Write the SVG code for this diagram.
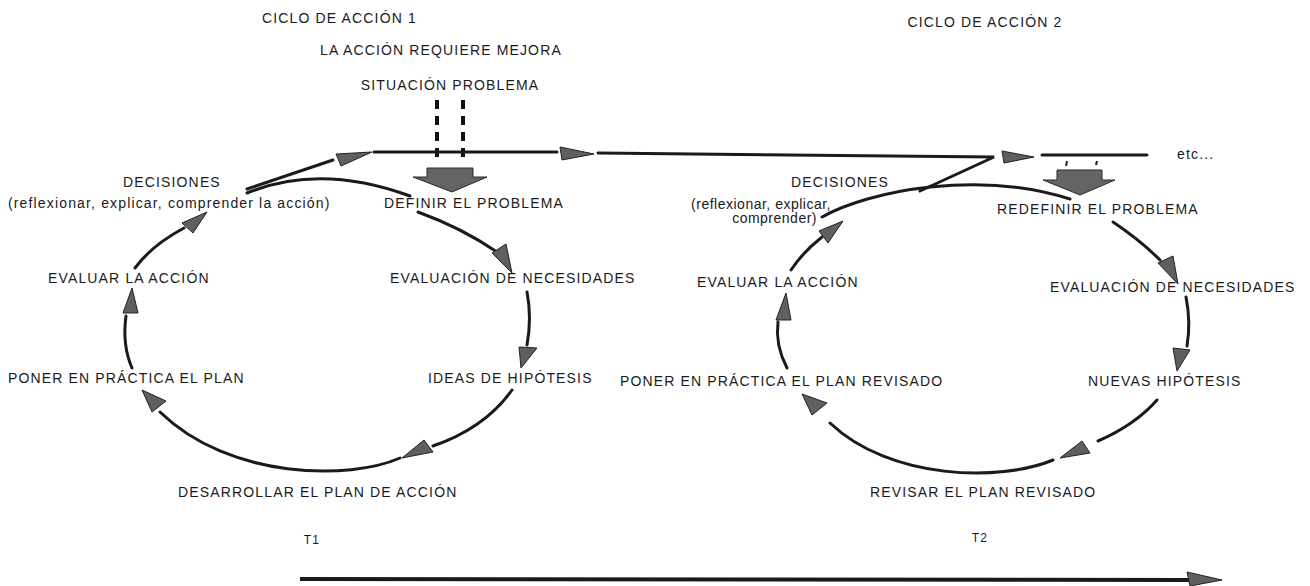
<svg xmlns="http://www.w3.org/2000/svg" width="1310" height="586" viewBox="0 0 1310 586">
<style>
text{font-family:"Liberation Sans",Arial,sans-serif;font-size:14px;letter-spacing:1.15px;fill:#1a1a1a}
.tight{letter-spacing:0.5px}
.ln{fill:none;stroke:#1a1a1a;stroke-width:3;stroke-linecap:round}
.ah{fill:#5f5f5f;stroke:#222;stroke-width:1;stroke-linejoin:round}
.blk{fill:#646464;stroke:#2a2a2a;stroke-width:1}
.dash{fill:none;stroke:#111;stroke-width:4;stroke-dasharray:9 7}
</style>
<rect width="1310" height="586" fill="#fff"/>

<g id="titles">
<text x="262" y="23">CICLO DE ACCIÓN 1</text>
<text x="320" y="55">LA ACCIÓN REQUIERE MEJORA</text>
<text x="450" y="90" text-anchor="middle">SITUACIÓN PROBLEMA</text>
<text x="985" y="27" text-anchor="middle">CICLO DE ACCIÓN 2</text>
<text x="1177" y="159">etc...</text>
<text x="312" y="544" text-anchor="middle" style="font-size:12px">T1</text>
<text x="980" y="542" text-anchor="middle" style="font-size:12px">T2</text>
</g>

<g id="c1-decisiones">
<text x="123" y="187">DECISIONES</text>
<text x="8" y="208">(reflexionar, explicar, comprender la acción)</text>
</g>
<g id="c1-definir"><text x="384" y="208">DEFINIR EL PROBLEMA</text></g>
<g id="c1-evaluacion"><text x="390" y="283">EVALUACIÓN DE NECESIDADES</text></g>
<g id="c1-ideas"><text x="428" y="383">IDEAS DE HIPÓTESIS</text></g>
<g id="c1-desarrollar"><text x="178" y="497">DESARROLLAR EL PLAN DE ACCIÓN</text></g>
<g id="c1-poner"><text x="8" y="383">PONER EN PRÁCTICA EL PLAN</text></g>
<g id="c1-evaluar"><text x="48" y="283">EVALUAR LA ACCIÓN</text></g>

<g id="c2-decisiones">
<text x="840" y="187" text-anchor="middle">DECISIONES</text>
<text class="tight" x="831" y="209" text-anchor="end">(reflexionar, explicar,</text>
<text class="tight" x="817" y="223" text-anchor="end">comprender)</text>
</g>
<g id="c2-redefinir"><text x="997" y="214">REDEFINIR EL PROBLEMA</text></g>
<g id="c2-evaluacion"><text x="1050" y="292">EVALUACIÓN DE NECESIDADES</text></g>
<g id="c2-nuevas"><text x="1088" y="386">NUEVAS HIPÓTESIS</text></g>
<g id="c2-revisar"><text x="870" y="497">REVISAR EL PLAN REVISADO</text></g>
<g id="c2-poner"><text x="620" y="386">PONER EN PRÁCTICA EL PLAN REVISADO</text></g>
<g id="c2-evaluar"><text x="697" y="287">EVALUAR LA ACCIÓN</text></g>

<g id="connectors">
<line class="dash" x1="437" y1="100" x2="437" y2="163"/>
<line class="dash" x1="463" y1="100" x2="463" y2="163"/>
<polygon class="blk" points="427,168 473,168 473,177 487,177 452,192 413,177 427,177"/>
<polygon class="blk" points="1057,170 1102,170 1102,180 1115,180 1080,195 1043,180 1057,180"/>
<line x1="1067" y1="161" x2="1066" y2="166" stroke="#222" stroke-width="2"/>
<line x1="1097" y1="161" x2="1096" y2="165" stroke="#222" stroke-width="2"/>

<path class="ln" d="M247,189 L333,160"/>
<polygon class="ah" points="336,154 341,166 372,152"/>
<path class="ln" d="M374,152 L557,152"/>
<polygon class="ah" points="560,147 562,160 594,154"/>
<path class="ln" d="M598,153 L994,157 L920,191"/>
<polygon class="ah" points="1002,151 1004,163 1034,157"/>
<path class="ln" d="M1042,155 L1147,155"/>

<path class="ln" d="M247,193 Q320,163 410,196"/>
<path class="ln" d="M418,212 Q462,228 497,252"/>
<polygon class="ah" points="492,253 506,244 512,273"/>
<path class="ln" d="M527,292 Q532,318 527,345"/>
<polygon class="ah" points="519,347 537,348 521,368"/>
<path class="ln" d="M512,390 Q485,428 433,446"/>
<polygon class="ah" points="402,458 424,440 433,452"/>
<path class="ln" d="M400,458 C350,480 230,480 160,412"/>
<polygon class="ah" points="142,390 152,412 166,401"/>
<path class="ln" d="M132,368 Q122,345 126,316"/>
<polygon class="ah" points="132,288 123,313 138,313"/>
<path class="ln" d="M135,268 Q152,245 184,228"/>
<polygon class="ah" points="207,212 182,223 193,233"/>

<path class="ln" d="M822,217 C870,190 980,170 1070,199"/>
<path class="ln" d="M1113,222 Q1140,240 1160,260"/>
<polygon class="ah" points="1158,263 1173,256 1178,284"/>
<path class="ln" d="M1186,297 Q1191,322 1187,346"/>
<polygon class="ah" points="1173,348 1190,350 1177,371"/>
<path class="ln" d="M1157,400 Q1135,425 1098,441"/>
<polygon class="ah" points="1060,458 1082,441 1090,453"/>
<path class="ln" d="M1053,460 C1000,482 890,480 830,423"/>
<polygon class="ah" points="802,394 812,415 827,403"/>
<path class="ln" d="M787,368 Q775,345 778,322"/>
<polygon class="ah" points="786,293 776,320 791,320"/>
<path class="ln" d="M791,270 Q803,252 822,237"/>
<polygon class="ah" points="843,221 819,231 828,243"/>

<path d="M300,579 L1190,580" fill="none" stroke="#1a1a1a" stroke-width="4"/>
<polygon class="ah" points="1187,572 1190,586 1222,580"/>
</g>
</svg>
